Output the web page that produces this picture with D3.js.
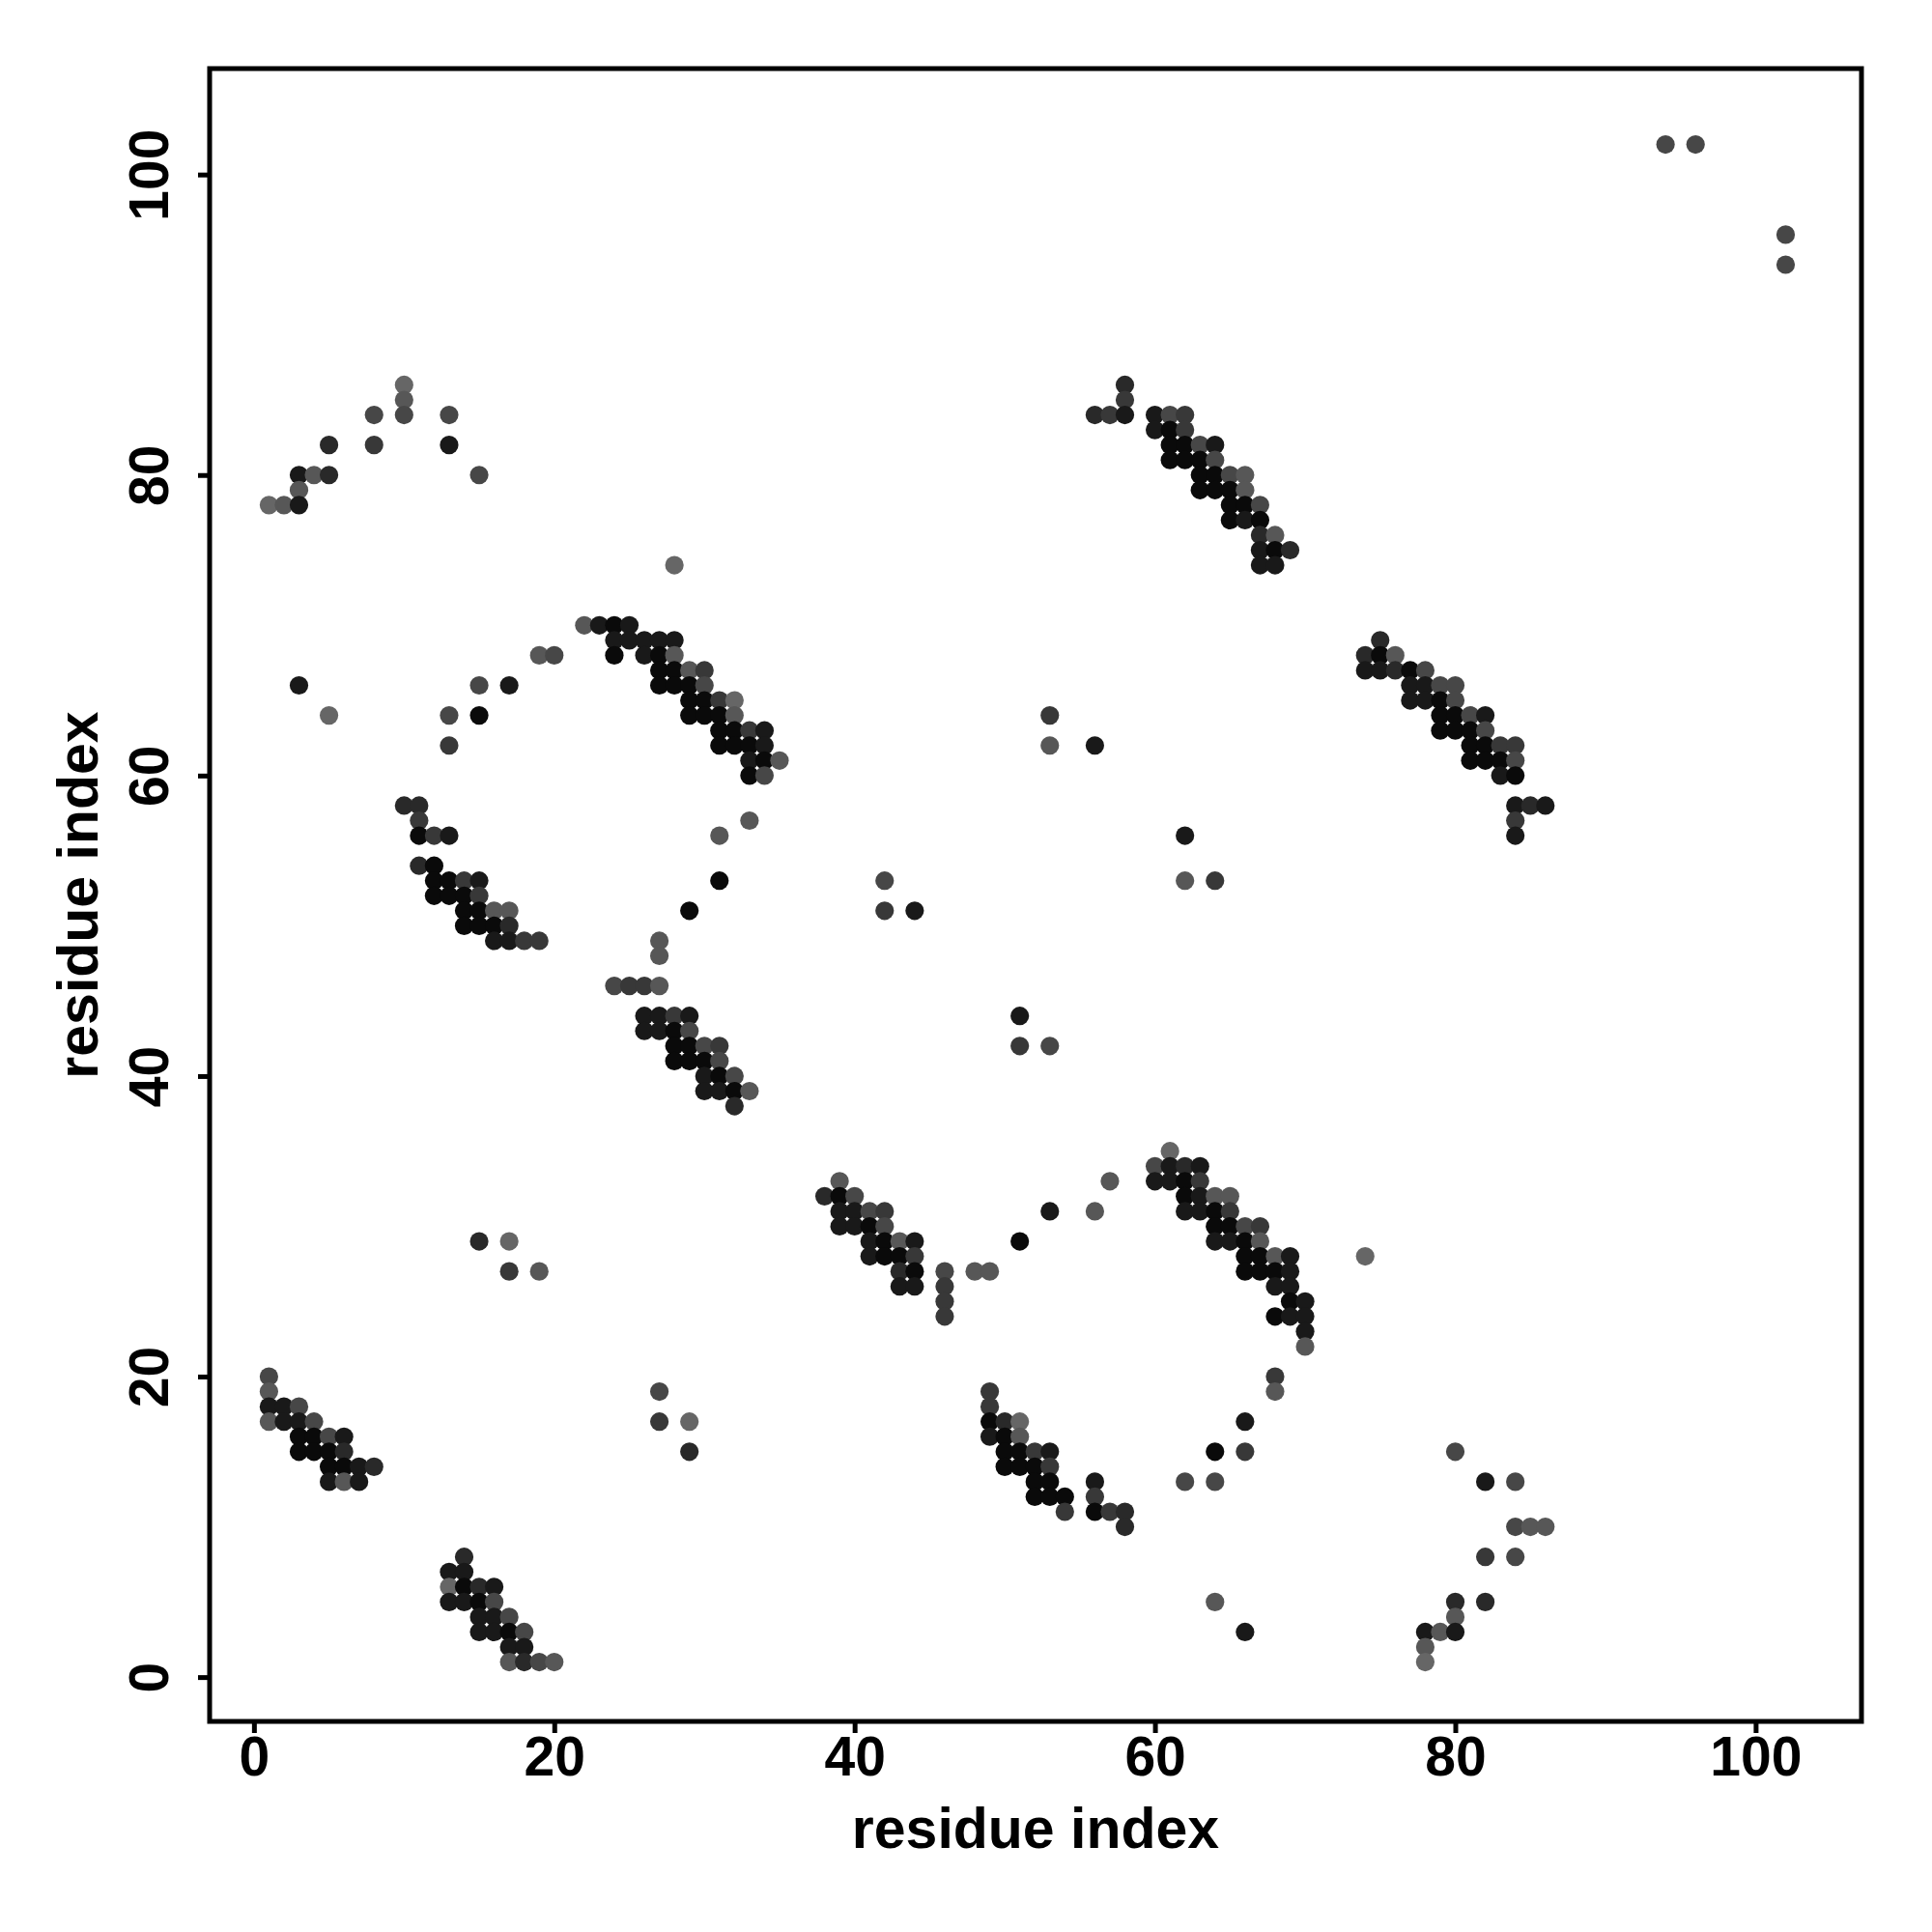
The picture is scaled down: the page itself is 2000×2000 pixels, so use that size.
<!DOCTYPE html>
<html>
<head>
<meta charset="utf-8">
<script src="https://cdn.jsdelivr.net/npm/d3@7"></script>
<style>
  html, body { margin: 0; padding: 0; background: #fff; }
  svg { display: block; }
</style>
</head>
<body>
<svg id="chart" width="2000" height="2000"></svg>
<script>
// Each contact: [residue i (x), residue j (y), shade level 0 (black) .. 6 (grey)]
const blockLowLeft = [
  [1,20,4],[1,19,5],
  [1,18,1],[2,18,1],[3,18,4],
  [1,17,5],[2,17,1],[3,17,1],[4,17,4],
  [3,16,0],[4,16,0],[5,16,4],[6,16,1],
  [3,15,0],[4,15,0],[5,15,0],[6,15,2],
  [5,14,0],[6,14,0],[7,14,1],[8,14,2],
  [5,13,1],[6,13,5],[7,13,1]
];
const blockBottom = [
  [14,8,2],
  [13,7,1],[14,7,1],
  [13,6,6],[14,6,0],[15,6,2],[16,6,1],
  [13,5,1],[14,5,1],[15,5,0],[16,5,4],
  [15,4,1],[16,4,1],[17,4,4],
  [15,3,1],[16,3,1],[17,3,0],[18,3,4],
  [17,2,1],[18,2,1],
  [17,1,5],[18,1,2],[19,1,4],[20,1,5]
];
const blockMidBottom = [
  [49,19,3],[49,18,3],
  [49,17,0],[50,17,2],[51,17,6],
  [49,16,1],[50,16,0],[51,16,5],
  [50,15,0],[51,15,0],[52,15,3],[53,15,1],
  [50,14,0],[51,14,0],[52,14,0],[53,14,3],
  [52,13,0],[53,13,0],[56,13,1],
  [52,12,0],[53,12,0],[54,12,0],[56,12,3],
  [54,11,3],[56,11,0],[57,11,3],[58,11,2],
  [58,10,2]
];
const blockB40 = [
  [24,46,4],[25,46,3],[26,46,3],[27,46,5],
  [26,44,1],[27,44,1],[28,44,3],[29,44,1],
  [26,43,1],[27,43,1],[28,43,0],[29,43,4],
  [28,42,0],[29,42,0],[30,42,4],[31,42,3],
  [28,41,0],[29,41,0],[30,41,0],[31,41,4],
  [30,40,1],[31,40,0],[32,40,4],
  [30,39,1],[31,39,1],[32,39,0],[33,39,5],
  [32,38,2]
];
const blockB30 = [
  [39,33,5],
  [38,32,2],[39,32,0],[40,32,4],
  [39,31,1],[40,31,1],[41,31,4],[42,31,3],
  [39,30,1],[40,30,1],[41,30,0],[42,30,4],
  [41,29,1],[42,29,0],[43,29,5],[44,29,1],
  [41,28,1],[42,28,0],[43,28,0],[44,28,3],
  [43,27,2],[44,27,0],[46,27,4],[48,27,5],[49,27,5],
  [43,26,1],[44,26,1],[46,26,3],
  [46,25,3],[46,24,3]
];
const blockC30 = [
  [61,35,6],
  [60,34,4],[61,34,1],[62,34,2],[63,34,1],
  [60,33,1],[61,33,1],[62,33,0],[63,33,3],
  [62,32,0],[63,32,1],[64,32,5],[65,32,5],
  [62,31,1],[63,31,1],[64,31,0],[65,31,3],
  [64,30,0],[65,30,0],[66,30,4],[67,30,3],
  [64,29,1],[65,29,1],[66,29,0],[67,29,5],
  [66,28,0],[67,28,0],[68,28,5],[69,28,1],
  [66,27,0],[67,27,0],[68,27,0],[69,27,1],
  [68,26,1],[69,26,1],
  [69,25,0],[70,25,1],
  [68,24,0],[69,24,1],[70,24,1],
  [70,23,1],[70,22,5]
];
const blockB60 = [
  [22,70,5],[23,70,1],[24,70,0],[25,70,1],
  [24,69,1],[25,69,1],[26,69,1],[27,69,1],[28,69,1],
  [24,68,0],[26,68,1],[27,68,0],[28,68,5],
  [27,67,0],[28,67,0],[29,67,5],[30,67,3],
  [27,66,0],[28,66,0],[29,66,0],[30,66,4],
  [29,65,0],[30,65,0],[31,65,3],[32,65,6],
  [29,64,0],[30,64,0],[31,64,0],[32,64,5],
  [31,63,0],[32,63,0],[33,63,3],[34,63,1],
  [31,62,0],[32,62,0],[33,62,0],[34,62,1],
  [33,61,1],[34,61,0],[35,61,5],
  [33,60,0],[34,60,4]
];
const blockA50 = [
  [10,58,2],[11,58,2],
  [11,57,3],
  [11,56,0],[12,56,3],[13,56,1],
  [11,54,2],[12,54,0],
  [12,53,0],[13,53,0],[14,53,3],[15,53,1],
  [12,52,0],[13,52,0],[14,52,0],[15,52,3],
  [14,51,0],[15,51,0],[16,51,5],[17,51,5],
  [14,50,0],[15,50,0],[16,50,0],[17,50,2],
  [16,49,1],[17,49,1],[18,49,3],[19,49,3]
];
const blockD60 = [
  [75,69,2],
  [74,68,2],[75,68,0],[76,68,5],
  [74,67,1],[75,67,1],[76,67,2],[77,67,0],[78,67,4],
  [77,66,1],[78,66,1],[79,66,4],[80,66,4],
  [77,65,1],[78,65,1],[79,65,0],[80,65,4],
  [79,64,0],[80,64,0],[81,64,4],[82,64,1],
  [79,63,0],[80,63,0],[81,63,0],[82,63,4],
  [81,62,0],[82,62,0],[83,62,3],[84,62,3],
  [81,61,0],[82,61,0],[83,61,0],[84,61,4],
  [83,60,1],[84,60,0],
  [84,58,1],[85,58,2],[86,58,1],
  [84,57,3],[84,56,1]
];
const blockC80 = [
  [58,86,2],[58,85,3],
  [56,84,2],[57,84,3],[58,84,1],[60,84,1],[61,84,4],[62,84,3],
  [60,83,1],[61,83,0],[62,83,3],
  [61,82,0],[62,82,0],[63,82,4],[64,82,1],
  [61,81,0],[62,81,0],[63,81,0],[64,81,4],
  [63,80,0],[64,80,0],[65,80,4],[66,80,5],
  [63,79,0],[64,79,0],[65,79,0],[66,79,5],
  [65,78,0],[66,78,0],[67,78,4],
  [65,77,0],[66,77,1],[67,77,0],
  [67,76,2],[68,76,5],
  [67,75,1],[68,75,0],[69,75,2],
  [67,74,1],[68,74,1]
];
const blockA80 = [
  [10,86,6],[10,85,5],[10,84,4],[8,84,4],[13,84,4],
  [5,82,2],[8,82,3],[13,82,1],
  [3,80,1],[4,80,5],[5,80,2],[15,80,4],
  [3,79,5],
  [1,78,6],[2,78,5],[3,78,1]
];
const blockLowRight = [
  [80,15,4],[82,13,1],[84,13,4],
  [84,10,4],[85,10,5],[86,10,5],
  [82,8,3],[84,8,4],
  [80,5,2],[82,5,2],[80,4,5],
  [78,3,1],[79,3,5],[80,3,1],
  [78,2,5],[78,1,6]
];
const scattered = [
  [27,19,4],[27,17,3],[29,17,6],[29,15,2],
  [68,20,3],[68,19,5],[66,17,1],[64,15,0],[66,15,3],[62,13,4],[64,13,4],[64,5,5],[66,3,1],
  [15,29,2],[17,29,6],[17,27,3],[19,27,5],
  [51,44,1],[51,42,3],[53,42,4],
  [57,33,5],[53,31,1],[56,31,5],[51,29,0],
  [74,28,6],
  [28,74,6],[19,68,5],[20,68,4],
  [3,66,1],[15,66,4],[17,66,1],
  [5,64,6],[13,64,4],[15,64,0],[13,62,3],
  [33,57,5],[31,56,5],[31,53,0],[29,51,0],[27,49,5],[27,48,5],
  [53,64,3],[53,62,5],[56,62,1],[62,56,1],[62,53,5],[64,53,3],
  [42,53,4],[42,51,3],[44,51,1],
  [94,102,4],[96,102,4],[102,96,4],[102,94,4]
];

const xTicks = [0, 20, 40, 60, 80, 100];
const yTicks = [0, 20, 40, 60, 80, 100];
const xLabel = "residue index";
const yLabel = "residue index";

const contacts = [].concat(
  blockLowLeft, blockBottom, blockMidBottom, blockB40, blockB30, blockC30,
  blockB60, blockA50, blockD60, blockC80, blockA80, blockLowRight, scattered
);

const svg = d3.select("#chart");
const L = 217, R = 1927, T = 71, B = 1782;
const x = d3.scaleLinear().domain([-2.95, 107.05]).range([L, R]);
const y = d3.scaleLinear().domain([-2.95, 107.05]).range([B, T]);
const shade = d3.scaleLinear().domain([0, 6]).range(["#0a0a0a", "#666666"]);

const font = "'Liberation Sans', Arial, Helvetica, sans-serif";

svg.append("rect").attr("width", 2000).attr("height", 2000).attr("fill", "#fff");

// points
svg.append("g").selectAll("circle")
  .data(contacts)
  .join("circle")
  .attr("cx", d => x(d[0]))
  .attr("cy", d => y(d[1]))
  .attr("r", 9.6)
  .attr("fill", d => shade(d[2]));

// frame
svg.append("rect")
  .attr("x", L).attr("y", T)
  .attr("width", R - L).attr("height", B - T)
  .attr("fill", "none").attr("stroke", "#000").attr("stroke-width", 5);

// x axis
const gx = svg.append("g")
  .attr("transform", `translate(0,${B})`)
  .call(d3.axisBottom(x).tickValues(xTicks).tickSize(12).tickPadding(4).tickFormat(d3.format("d")));
gx.select(".domain").remove();
gx.selectAll(".tick line").attr("stroke", "#000").attr("stroke-width", 5);
gx.selectAll(".tick text")
  .attr("font-family", font).attr("font-weight", "bold").attr("font-size", 57).attr("fill", "#000");

// y axis
const gy = svg.append("g")
  .attr("transform", `translate(${L},0)`)
  .call(d3.axisLeft(y).tickValues(yTicks).tickSize(12).tickFormat(d3.format("d")));
gy.select(".domain").remove();
gy.selectAll(".tick line").attr("stroke", "#000").attr("stroke-width", 5);
gy.selectAll(".tick text")
  .attr("font-family", font).attr("font-weight", "bold").attr("font-size", 57).attr("fill", "#000")
  .attr("text-anchor", "middle")
  .attr("x", 0).attr("y", -43).attr("dy", 0)
  .attr("transform", "rotate(-90)");

// axis titles
svg.append("text")
  .attr("x", (L + R) / 2).attr("y", 1913)
  .attr("text-anchor", "middle")
  .attr("font-family", font).attr("font-weight", "bold").attr("font-size", 59)
  .text(xLabel);

svg.append("text")
  .attr("transform", `translate(101,${(T + B) / 2}) rotate(-90)`)
  .attr("text-anchor", "middle")
  .attr("font-family", font).attr("font-weight", "bold").attr("font-size", 59)
  .text(yLabel);
</script>
</body>
</html>
